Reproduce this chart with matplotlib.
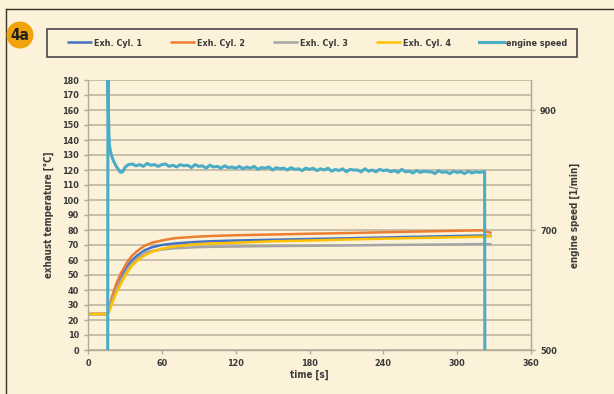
import matplotlib
matplotlib.use("Agg")
import matplotlib.pyplot as plt
from matplotlib.patches import Circle, Rectangle

# ---- data ----
time_temp = [0, 16, 18, 20, 23, 26, 30, 33, 36, 40, 46, 52, 60, 70, 87, 100,
             120, 150, 180, 213, 240, 270, 300, 320, 328]
cyl1 = [24, 24, 29.5, 35, 41.5, 47, 53, 57, 60, 63, 66.5, 68.5, 70, 71, 72, 72.5,
        73, 73.5, 74, 74.5, 75, 75.5, 76, 76.3, 76]
cyl2 = [24, 24, 31, 37, 44, 50, 56, 60, 63, 66, 69.5, 71.5, 73, 74.5, 75.5, 76,
        76.5, 77, 77.5, 78, 78.5, 79, 79.5, 79.8, 78]
cyl3 = [24, 24, 28.5, 34, 40, 45.5, 51, 55, 58, 61, 65, 66, 67, 67.8, 68.5, 68.8,
        69, 69.3, 69.5, 69.7, 70, 70.2, 70.4, 70.6, 70.5]
cyl4 = [24, 24, 27.5, 32, 38, 43, 49, 53, 56.5, 59.5, 63, 65.5, 67.5, 69, 70.5, 71,
        71.5, 72.5, 73, 73.7, 74.2, 74.7, 75.2, 75.5, 76]

speed_t_start = [16.0, 16.2, 16.6, 17.0, 17.5, 18.2, 19.0, 20.0, 21.0, 22.0, 23.0,
                 24.0, 25.0, 26.0, 27.0, 28.0, 29.0, 30.0, 31.5, 33.0]
speed_start = [498, 960, 900, 860, 840, 832, 825, 819, 814, 810, 806,
               803, 800, 797, 796, 797, 800, 804, 807, 809]
speed_t_mid = list(range(36, 322, 3))
speed_mid = [810, 807, 809, 806, 811, 808, 809, 806, 809,
             810, 806, 808, 805, 809, 807, 808, 804, 809, 806, 807, 803, 808, 805, 806, 803, 807, 804, 805, 803,
             806, 802, 805, 803, 806, 801, 804, 803, 805, 800, 804, 802, 803, 800, 804, 801, 802, 799, 803, 801,
             803, 799, 802, 800, 803, 798, 801, 799, 802, 797, 801, 800, 800, 797, 802, 798, 800, 797, 801, 799,
             800, 797, 799, 796, 801, 797, 798, 795, 799, 796, 798, 797, 797, 794, 799, 796, 797, 794, 798, 796,
             797, 794, 798, 795, 797, 796, 797]
speed_t_end = [322.3, 322.5]
speed_end = [797, 498]

x_ticks = [0, 60, 120, 180, 240, 300, 360]
y_ticks = list(range(0, 181, 10))
y2_ticks = [500, 700, 900]

series_names = ["Exh. Cyl. 1", "Exh. Cyl. 2", "Exh. Cyl. 3", "Exh. Cyl. 4", "engine speed"]
colors = ["#4472C4", "#ED7D31", "#A5A5A5", "#FFC000", "#4BACC6"]

# ---- style ----
bg = "#FCF1D9"
txt = "#3A3A3A"
plt.rcParams['font.family'] = ['DejaVu Sans']
plt.rcParams['font.stretch'] = 'condensed'

fig = plt.figure(figsize=(6.14, 3.94), dpi=100, facecolor=bg)
W, H = 614, 394
ax = fig.add_axes([88 / W, 1 - 350 / H, (531 - 88) / W, (350 - 80) / H])
ax.set_facecolor(bg)

lines = []
for ys, c, n in zip([cyl1, cyl2, cyl3, cyl4], colors[:4], series_names[:4]):
    l, = ax.plot(time_temp, ys, color=c, lw=1.8, label=n, solid_capstyle='butt')
    lines.append(l)

ax.set_xlim(0, 360)
ax.set_ylim(0, 180)
ax.set_xticks(x_ticks)
ax.set_yticks(y_ticks)
ax.yaxis.grid(True, color="#C4BBA6", lw=1.3)
ax.xaxis.grid(False)
ax.set_axisbelow(True)
ax.spines["top"].set_visible(False)
for s in ["left", "bottom", "right"]:
    ax.spines[s].set_color("#B0AA9A")
    ax.spines[s].set_linewidth(1.0)
ax.tick_params(axis='both', colors="#B0AA9A", labelcolor=txt, labelsize=6.5, length=3, width=1)
for lab in ax.get_xticklabels() + ax.get_yticklabels():
    lab.set_fontweight('bold')
ax.set_xlabel("time [s]", fontsize=7, fontweight='bold', color=txt, labelpad=1)
ax.set_ylabel("exhaust temperature [°C]", fontsize=7, fontweight='bold', color=txt, labelpad=6)

ax2 = ax.twinx()
ax2.set_ylim(500, 950)
ax2.set_yticks(y2_ticks)
st = speed_t_start + speed_t_mid + speed_t_end
sv = speed_start + speed_mid + speed_end
l5, = ax2.plot(st, sv, color=colors[4], lw=2.2, label=series_names[4])
lines.append(l5)
for s in ["top", "left", "bottom"]:
    ax2.spines[s].set_visible(False)
ax2.spines["right"].set_color("#B0AA9A")
ax2.tick_params(axis='y', colors="#B0AA9A", labelcolor=txt, labelsize=6.5, length=3, width=1)
for lab in ax2.get_yticklabels():
    lab.set_fontweight('bold')
ax2.set_ylabel("engine speed [1/min]", fontsize=7, fontweight='bold', color=txt, labelpad=9)

# legend frame + legend
fig.add_artist(Rectangle((47 / W, 1 - 57 / H), 530 / W, 28 / H, transform=fig.transFigure,
                         facecolor=bg, edgecolor="#4A4A4A", lw=1.2, zorder=5))
leg = fig.legend(handles=lines, loc='center left',
                 bbox_to_anchor=(67 / W, 1 - 57 / H, 500 / W, 28 / H), mode='expand',
                 ncol=5, frameon=False, fontsize=6.5, handlelength=2.8,
                 handletextpad=0.2, borderpad=0, borderaxespad=0)
leg.set_zorder(6)
for t in leg.get_texts():
    t.set_color(txt)
    t.set_fontweight('bold')

# frame
fig.add_artist(plt.Line2D([6 / W, 6 / W], [0, 1 - 9 / H], transform=fig.transFigure,
                          color="#3A3226", lw=1.0))
fig.add_artist(plt.Line2D([6 / W, 1], [1 - 9 / H, 1 - 9 / H], transform=fig.transFigure,
                          color="#3A3226", lw=1.0))

# badge
badge = Circle((20, H - 35), 13.5, transform=None, facecolor="#F0A30A", edgecolor='none',
               zorder=20)
fig.add_artist(badge)
fig.text(20 / W, 1 - 35 / H, "4a", ha='center', va='center', fontsize=11,
         fontweight='bold', color="#222222", zorder=21)

fig.savefig("out.png", dpi=100, facecolor=bg)
